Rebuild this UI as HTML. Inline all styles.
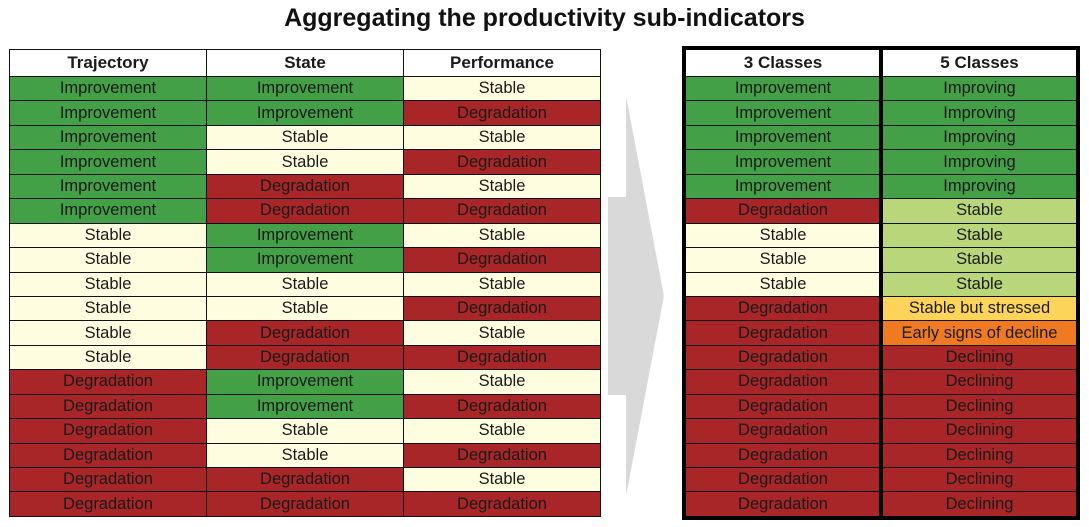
<!DOCTYPE html>
<html><head><meta charset="utf-8"><style>
body{margin:0;width:1089px;height:527px;background:#fff;position:relative;overflow:hidden;font-family:"Liberation Sans",sans-serif}
#title{position:absolute;left:0;width:1089px;top:4px;text-align:center;font-size:25px;font-weight:bold;color:#111}
.c{position:absolute;box-sizing:border-box;text-align:center;font-size:16.5px;color:#1a1a1a;display:flex;align-items:center;justify-content:center;white-space:nowrap}
.h{font-weight:bold;font-size:17px;background:#fff}
</style></head><body>
<div id="title">Aggregating the productivity sub-indicators</div>
<svg style="position:absolute;left:0;top:0" width="1089" height="527"><polygon points="608,197 626,197 626,96 664,296 626,496 626,395 608,395" fill="#d9d9d9"/></svg>
<div id="root"></div>
<script>
const trajectory=["I","I","I","I","I","I","S","S","S","S","S","S","D","D","D","D","D","D"];
const state=["I","I","S","S","D","D","I","I","S","S","D","D","I","I","S","S","D","D"];
const performance=["S","D","S","D","S","D","S","D","S","D","S","D","S","D","S","D","S","D"];
const classes3=["I","I","I","I","I","D","S","S","S","D","D","D","D","D","D","D","D","D"];
const classes5=["Improving","Improving","Improving","Improving","Improving","Stable","Stable","Stable","Stable","Stable but stressed","Early signs of decline","Declining","Declining","Declining","Declining","Declining","Declining","Declining"];
const names={I:"Improvement",S:"Stable",D:"Degradation"};
const cols={I:"#43a047",S:"#fffde0",D:"#a82528"};
const col5={"Improving":"#43a047","Stable":"#b9d77a","Stable but stressed":"#fcd45a","Early signs of decline":"#ef7a22","Declining":"#a82528"};
const root=document.getElementById('root');
const top0=49,hh=27,rh=24.44;
function cell(x,y,w,h,txt,bg,border,cls){
 const d=document.createElement('div');d.className='c '+(cls||'');
 d.style.left=x+'px';d.style.top=y+'px';d.style.width=w+'px';d.style.height=h+'px';
 d.style.background=bg;d.style.border=border;d.textContent=txt;root.appendChild(d);return d;}
const L=[[9,198,"Trajectory",trajectory],[206,198,"State",state],[403,198,"Performance",performance]];
L.forEach(([x,w,t,arr])=>{
 const h=cell(x,top0,w,hh+1,t,"#fff","1px solid #111","h");
 
 
 arr.forEach((v,i)=>{const d=cell(x,top0+hh+i*rh,w,rh+1,names[v],cols[v],"1px solid #111");
  
  });
});
const R=[[685,196,"3 Classes",classes3.map(v=>[names[v],cols[v]])],[881,197,"5 Classes",classes5.map(v=>[v,col5[v]])]];
R.forEach(([x,w,t,arr])=>{
 const h=cell(x,top0,w,hh+1,t,"#fff","1px solid #111","h");
 
 
 arr.forEach(([txt,bg],i)=>{const d=cell(x,top0+hh+i*rh,w,rh+1,txt,bg,"1px solid #111");
  
  });
});
const fr=document.createElement('div');
fr.style.cssText="position:absolute;left:682px;top:46px;width:398px;height:474px;border:4px solid #000;box-sizing:border-box";


root.appendChild(fr);
const dv=document.createElement('div');
dv.style.cssText="position:absolute;left:879px;top:46px;width:4px;height:474px;background:#000";


root.appendChild(dv);
</script>
</body></html>
